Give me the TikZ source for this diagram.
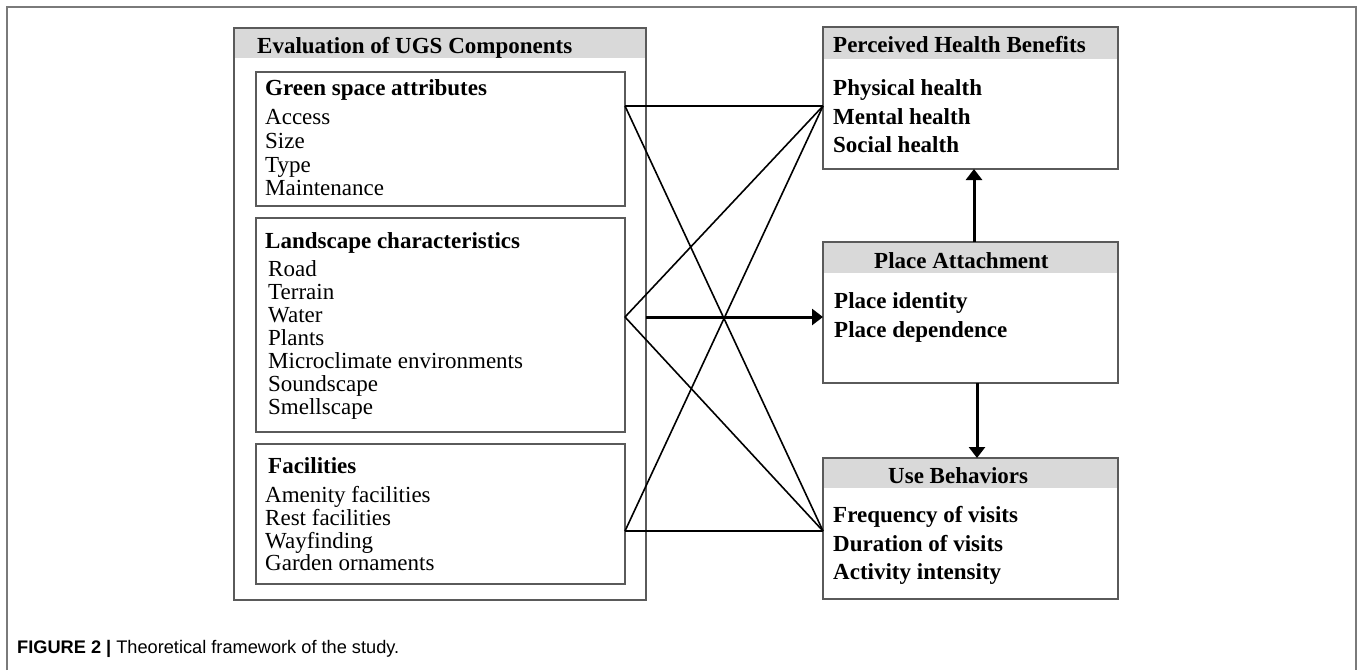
\documentclass[tikz,border=0pt]{standalone}
\usepackage{fontspec}
\setmainfont{Liberation Serif}
\newfontfamily\capfont{Liberation Sans}
\usetikzlibrary{arrows.meta}
\definecolor{boxgray}{HTML}{5A5A5A}
\definecolor{headgray}{HTML}{D9D9D9}
\definecolor{framegray}{HTML}{7A7A7A}
\begin{document}
\begin{tikzpicture}[x=1pt,y=-1pt,
  boxframe/.style={draw=boxgray, line width=1.3pt, anchor=north west, inner sep=0pt, outer sep=0pt},
  txt/.style={anchor=base west, inner sep=0pt, font=\fontsize{23}{24}\selectfont},
  btxt/.style={txt, font=\fontsize{23}{24}\selectfont\bfseries},
  link/.style={draw=black, line width=1.6pt},
  bigarrow/.style={draw=black, line width=3pt, -{Triangle[length=11pt,width=16pt]}}
]
\useasboundingbox (0,0) rectangle (1358,670);
% outer frame
\draw[framegray, line width=1.5pt] (7,670) -- (7,7) -- (1356,7) -- (1356,670);

% header bands
\fill[headgray] (234,28) rectangle (646,58);
\fill[headgray] (823,27) rectangle (1118,59);
\fill[headgray] (823,242) rectangle (1118,273);
\fill[headgray] (823,458) rectangle (1118,488);

% boxes
\node[boxframe, minimum width=412pt, minimum height=572pt] (ugs) at (234,28) {};
\node[boxframe, minimum width=369pt, minimum height=134pt] (g1) at (256,72) {};
\node[boxframe, minimum width=369pt, minimum height=214pt] (g2) at (256,218) {};
\node[boxframe, minimum width=369pt, minimum height=140pt] (g3) at (256,444) {};
\node[boxframe, minimum width=295pt, minimum height=142pt] (ph) at (823,27) {};
\node[boxframe, minimum width=295pt, minimum height=141pt] (pa) at (823,242) {};
\node[boxframe, minimum width=295pt, minimum height=141pt] (ub) at (823,458) {};

% texts left
\node[btxt] (t0) at (257,53) {Evaluation of UGS Components};
\node[btxt] (t1) at (265,95) {Green space attributes};
\node[txt] (t1a) at (265,124) {Access};
\node[txt] (t1b) at (265,148) {Size};
\node[txt] (t1c) at (265,172) {Type};
\node[txt] (t1d) at (265,195) {Maintenance};
\node[btxt] (t2) at (265,248) {Landscape characteristics};
\node[txt] (t2a) at (268,276) {Road};
\node[txt] (t2b) at (268,299) {Terrain};
\node[txt] (t2c) at (268,322) {Water};
\node[txt] (t2d) at (268,345) {Plants};
\node[txt] (t2e) at (268,368) {Microclimate environments};
\node[txt] (t2f) at (268,391) {Soundscape};
\node[txt] (t2g) at (268,414) {Smellscape};
\node[btxt] (t3) at (268,473) {Facilities};
\node[txt] (t3a) at (265,502) {Amenity facilities};
\node[txt] (t3b) at (265,525) {Rest facilities};
\node[txt] (t3c) at (265,548) {Wayfinding};
\node[txt] (t3d) at (265,570) {Garden ornaments};

% texts right
\node[btxt] (r0) at (833,52) {Perceived Health Benefits};
\node[btxt] (r1) at (833,95) {Physical health};
\node[btxt] (r2) at (833,124) {Mental health};
\node[btxt] (r3) at (833,152) {Social health};
\node[btxt] (s0) at (874,268) {Place Attachment};
\node[btxt] (s1) at (834,308) {Place identity};
\node[btxt] (s2) at (834,337) {Place dependence};
\node[btxt] (u0) at (888,483) {Use Behaviors};
\node[btxt] (u1) at (833,522) {Frequency of visits};
\node[btxt] (u2) at (833,551) {Duration of visits};
\node[btxt] (u3) at (833,579) {Activity intensity};

% caption
\node[anchor=base west, inner sep=0pt, font=\capfont\fontsize{18.2}{20}\selectfont] (cap) at (17,653) {\textbf{FIGURE 2 |} Theoretical framework of the study.};

% connector points
\coordinate (a) at (g1.east |- 0,106);
\coordinate (b) at (g2.east |- 0,317);
\coordinate (c) at (g3.east |- 0,531);
\coordinate (p) at (ph.west |- 0,106);
\coordinate (u) at (ub.west |- 0,531);

\draw[link] (a) -- (p);
\draw[link] (a) -- (u);
\draw[link] (b) -- (p);
\draw[link] (b) -- (u);
\draw[link] (c) -- (p);
\draw[link] (c) -- (u);

\draw[bigarrow] (ugs.east |- b) -- (pa.west |- b);
\draw[bigarrow] (pa.north -| 974,0) -- (ph.south -| 974,0);
\draw[bigarrow] (pa.south -| 977,0) -- (ub.north -| 977,0);
\end{tikzpicture}
\end{document}
